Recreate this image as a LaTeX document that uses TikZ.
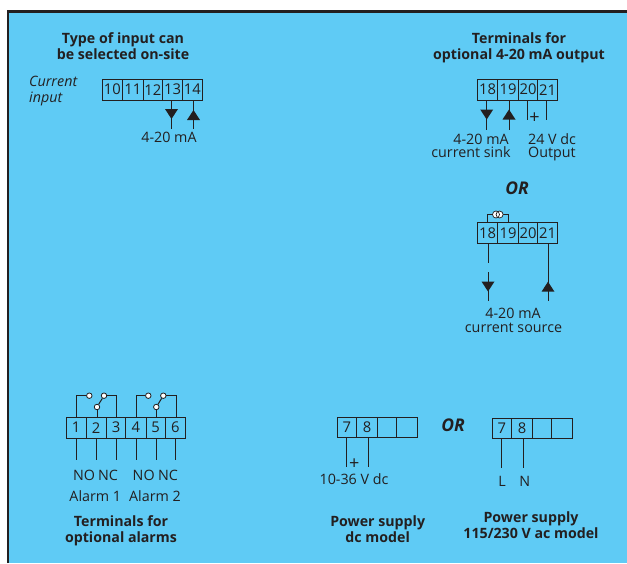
\documentclass[tikz,border=0pt]{standalone}
\usepackage{fontspec}
\setmainfont{Open Sans}
\definecolor{panel}{HTML}{5FCBF5}
\definecolor{ink}{HTML}{231F20}
\tikzset{
  x=1pt,y=-1pt,
  cellbox/.style={draw=ink,line width=0.9pt,fill=panel,inner sep=0pt,text=ink,font=\fontsize{14.8}{15}\selectfont},
  wire/.style={draw=ink,line width=1pt},
  lab/.style={anchor=base,inner sep=0pt,text=ink,font=\fontsize{14.3}{15}\selectfont},
  plus/.style={lab,font=\fontsize{18}{18}\selectfont},
  ital/.style={lab,anchor=base west,font=\fontsize{14.3}{15}\selectfont\itshape},
  head/.style={lab,font=\fontsize{14.2}{15}\selectfont\bfseries},
  orlab/.style={lab,font=\fontsize{17.5}{18}\selectfont\bfseries\itshape},
  contact/.style={circle,draw=ink,line width=0.8pt,fill=white,inner sep=0pt,minimum size=5.5pt},
  src/.style={circle,draw=ink,line width=0.7pt,inner sep=0pt,minimum size=7pt},
  down tri/.pic={\fill[ink] (-6.5,-5)--(6.5,-5)--(0,5)--cycle;},
  up tri/.pic={\fill[ink] (-6.5,5)--(6.5,5)--(0,-5)--cycle;}
}
% #1 name, #2 left, #3 right, #4 top, #5 bottom, #6 text
\newcommand{\termcell}[6]{%
  \pgfmathsetmacro{\tcx}{(#2+#3)/2}\pgfmathsetmacro{\tcy}{(#4+#5)/2}%
  \pgfmathsetmacro{\tcw}{#3-#2}\pgfmathsetmacro{\tch}{#5-#4}%
  \node[cellbox,minimum width=\tcw pt,minimum height=\tch pt] (#1) at (\tcx,\tcy) {#6};}
\begin{document}
\begin{tikzpicture}
\useasboundingbox (0,0) rectangle (627,563);
\fill[white] (0,0) rectangle (627,563);
\fill[panel] (8,11.5) rectangle (627,563);
\draw[ink,line width=2.4pt] (8,563) -- (8,11.5) -- (627,11.5);

% Input block
\node[head] (h1a) at (123,43) {Type of input can};
\node[head] (h1b) at (123,59) {be selected on-site};
\node[ital] (ci1) at (29,86) {Current};
\node[ital] (ci2) at (29,102) {input};
\termcell{a10}{102.3}{122.5}{79.3}{100}{10}
\termcell{a11}{122.5}{143}{79.3}{100}{11}
\termcell{a12}{143}{162.5}{79.3}{100}{12}
\termcell{a13}{162.5}{182.5}{79.3}{100}{13}
\termcell{a14}{182.5}{202.3}{79.3}{100}{14}
\coordinate (ae13) at (171.5,129);
\coordinate (ae14) at (193.5,129);
\draw[wire] (a13.south -| ae13) -- (ae13);
\draw[wire] (a14.south -| ae14) -- (ae14);
\pic at (171.5,114) {down tri};
\pic at (193.5,115) {up tri};
\node[lab] (al) at (169,142.5) {4-20 mA};

% Sink output block
\node[head] (h2a) at (519,43) {Terminals for};
\node[head] (h2b) at (519,59) {optional 4-20 mA output};
\termcell{b18}{477.7}{497.7}{79.3}{100}{18}
\termcell{b19}{497.7}{518.3}{79.3}{100}{19}
\termcell{b20}{518.3}{537.7}{79.3}{100}{20}
\termcell{b21}{537.7}{557.7}{79.3}{100}{21}
\coordinate (be18) at (486.7,129.5);
\coordinate (be19) at (509,129.5);
\coordinate (be20) at (527.7,120);
\coordinate (be21) at (546.7,120);
\draw[wire] (b18.south -| be18) -- (be18);
\draw[wire] (b19.south -| be19) -- (be19);
\draw[wire] (b20.south -| be20) -- (be20);
\draw[wire] (b21.south -| be21) -- (be21);
\pic at (486.7,114.5) {down tri};
\pic at (509,114.5) {up tri};
\node[plus] (bp) at (534.5,123) {+};
\node[lab] (bl1) at (481,144.5) {4-20 mA};
\node[lab] (bl2) at (471,157) {current sink};
\node[lab] (bl3) at (552,144.5) {24 V dc};
\node[lab] (bl4) at (552,157) {Output};

\node[orlab] (or1) at (517,194) {OR};

% Source output block
\coordinate (cl) at (487.3,214.5);
\coordinate (cr) at (508.3,214.5);
\termcell{c18}{477.7}{497.7}{222.7}{243.3}{18}
\termcell{c19}{497.7}{518.3}{222.7}{243.3}{19}
\termcell{c20}{518.3}{537.7}{222.7}{243.3}{20}
\termcell{c21}{537.7}{557.7}{222.7}{243.3}{21}
\draw[wire,line width=0.8pt] (c18.north -| cl) -- (cl) -- (cr) -- (c19.north -| cr);
\fill[white] (496,214.5) circle (3.5) (499.6,214.5) circle (3.5);
\node[src] (s1) at (496,214.5) {};
\node[src] (s2) at (499.6,214.5) {};
\coordinate (ce18a) at (488,263);
\coordinate (ce18b) at (488,272);
\coordinate (ce18c) at (488,301);
\coordinate (ce21) at (548,301);
\draw[wire] (c18.south -| ce18a) -- (ce18a);
\draw[wire] (ce18b) -- (ce18c);
\draw[wire] (c21.south -| ce21) -- (ce21);
\pic at (488,286.5) {down tri};
\pic at (548,286.7) {up tri};
\node[lab] (cl1) at (513,318) {4-20 mA};
\node[lab] (cl2) at (513.5,332) {current source};

% Alarm block
\termcell{d1}{66}{86}{417.3}{438}{1}
\termcell{d2}{86}{106.3}{417.3}{438}{2}
\termcell{d3}{106.3}{125.7}{417.3}{438}{3}
\termcell{d4}{125.7}{146}{417.3}{438}{4}
\termcell{d5}{146}{165.3}{417.3}{438}{5}
\termcell{d6}{165.3}{185.3}{417.3}{438}{6}
\foreach \n/\x in {1/76,2/96.7,3/116,4/136,5/156,6/175}{
  \coordinate (de\n) at (\x,460);
  \draw[wire] (d\n.south -| de\n) -- (de\n);
}
\node[contact] (k1a) at (89.3,395.7) {};
\node[contact] (k1b) at (104,395.7) {};
\node[contact] (k1c) at (97,407) {};
\coordinate (k1l) at (76.7,395.7);
\coordinate (k1r) at (116.7,395.7);
\draw[wire] (d1.north -| k1l) -- (k1l) -- (k1a);
\draw[wire] (k1b) -- (k1r) -- (d3.north -| k1r);
\draw[wire] (d2.north -| k1c) -- (k1c);
\draw[wire] (k1c) -- (k1b);
\node[contact] (k2a) at (148.3,395.7) {};
\node[contact] (k2b) at (163.3,395.7) {};
\node[contact] (k2c) at (156.3,407) {};
\coordinate (k2l) at (136,395.7);
\coordinate (k2r) at (176,395.7);
\draw[wire] (d4.north -| k2l) -- (k2l) -- (k2a);
\draw[wire] (k2b) -- (k2r) -- (d6.north -| k2r);
\draw[wire] (d5.north -| k2c) -- (k2c);
\draw[wire] (k2c) -- (k2b);
\node[lab] (no1) at (84,480) {NO};
\node[lab] (nc1) at (108,480) {NC};
\node[lab] (no2) at (143.7,480) {NO};
\node[lab] (nc2) at (168,480) {NC};
\node[lab] (al1) at (95.3,501) {Alarm 1};
\node[lab] (al2) at (155,501) {Alarm 2};
\node[head] (h3a) at (121,526) {Terminals for};
\node[head] (h3b) at (121,542) {optional alarms};

% DC supply block
\termcell{e7}{337}{356.7}{417.7}{437.7}{7}
\termcell{e8}{356.7}{377.3}{417.7}{437.7}{8}
\termcell{e9}{377.3}{396.7}{417.7}{437.7}{}
\termcell{e10}{396.7}{417}{417.7}{437.7}{}
\coordinate (ee7) at (346,467);
\coordinate (ee8) at (368.3,467);
\draw[wire] (e7.south -| ee7) -- (ee7);
\draw[wire] (e8.south -| ee8) -- (ee8);
\node[plus] (ep) at (354.3,469) {+};
\node[lab] (el) at (354,484) {10-36 V dc};
\node[head] (h4a) at (377.7,526) {Power supply};
\node[head] (h4b) at (377.7,542) {dc model};

\node[orlab] (or2) at (453,431) {OR};

% AC supply block
\termcell{f7}{492}{511.7}{418}{438.3}{7}
\termcell{f8}{511.7}{532.3}{418}{438.3}{8}
\termcell{f9}{532.3}{551.7}{418}{438.3}{}
\termcell{f10}{551.7}{572}{418}{438.3}{}
\coordinate (fe7) at (501,468);
\coordinate (fe8) at (523,468);
\draw[wire] (f7.south -| fe7) -- (fe7);
\draw[wire] (f8.south -| fe8) -- (fe8);
\node[lab] (fl) at (502,486.5) {L};
\node[lab] (fn) at (524.7,486.5) {N};
\node[head] (h5a) at (531,522) {Power supply};
\node[head] (h5b) at (531,538) {115/230 V ac model};
\end{tikzpicture}
\end{document}
